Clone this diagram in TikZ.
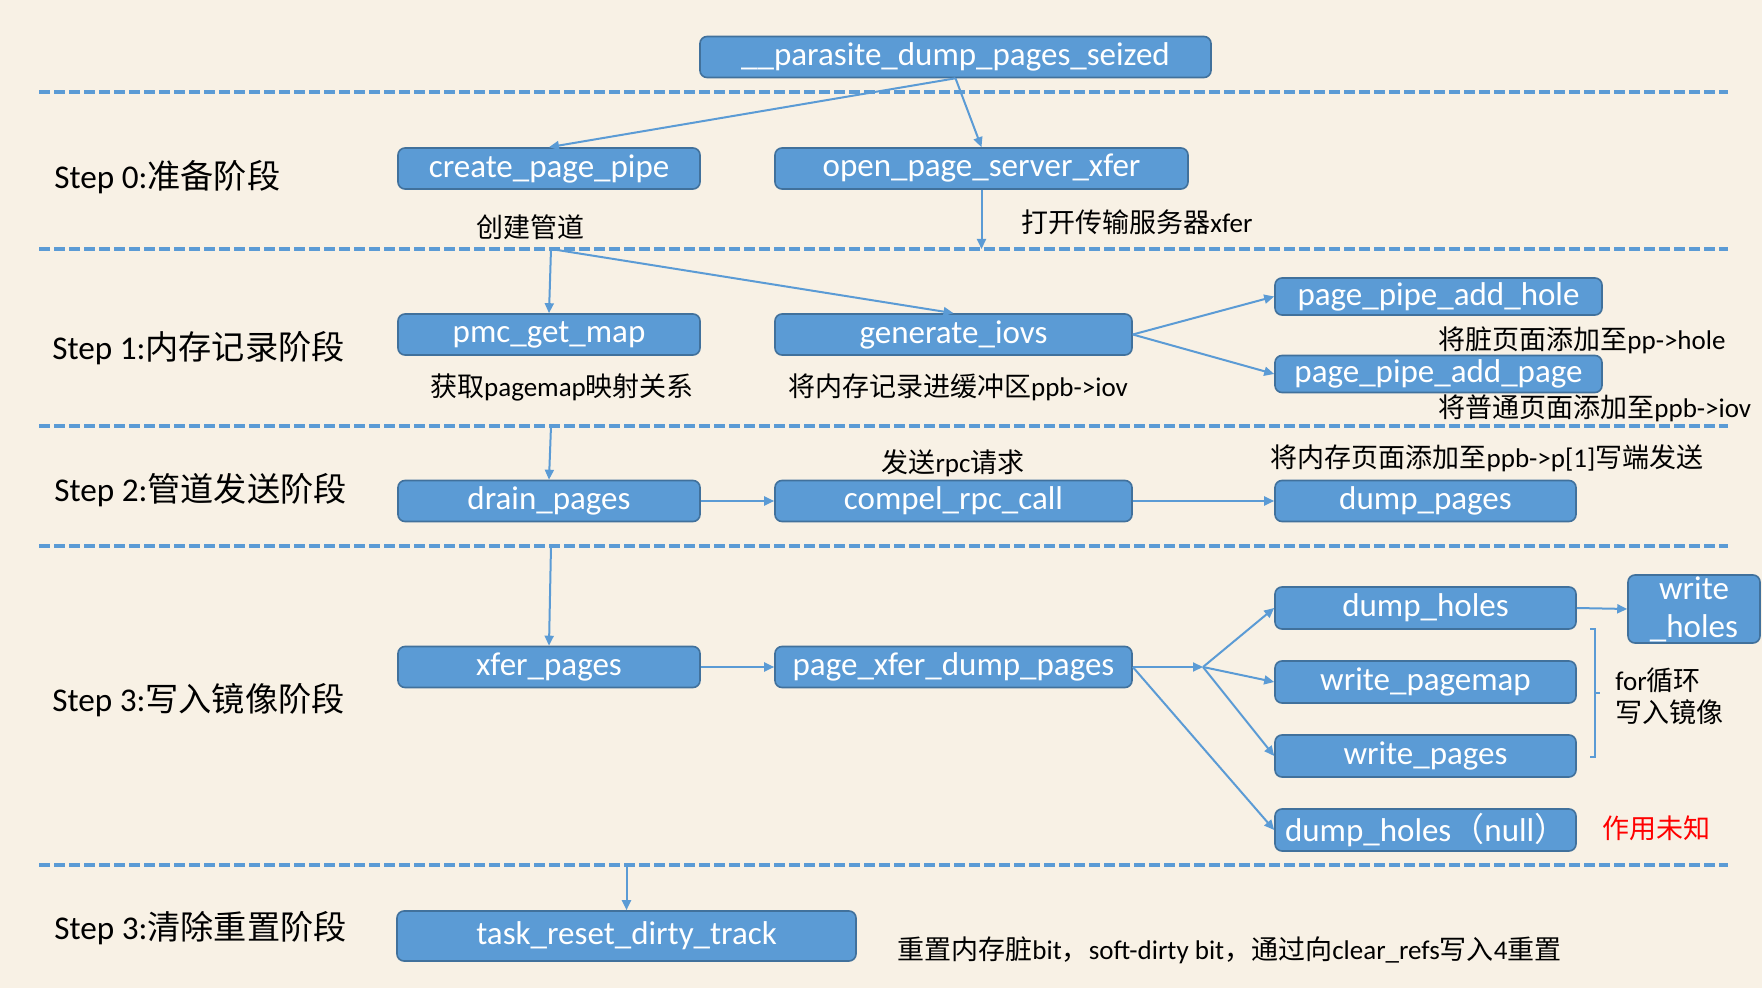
\documentclass[tikz,border=0pt]{standalone}
\usepackage{fontspec}
\setmainfont{Carlito}
\newfontfamily\zhfont{Noto Sans CJK SC}
\newcommand\zh[1]{{\zhfont #1}}
\usetikzlibrary{arrows.meta}
\definecolor{paper}{HTML}{F8F1E5}
\definecolor{boxblue}{HTML}{5B9BD5}
\definecolor{boxedge}{HTML}{41719C}

\begin{document}
\begin{tikzpicture}[
        x=0.5pt, y=-0.5pt,
        fn/.style={rectangle, rounded corners=3.5pt, draw=boxedge, line width=0.8pt, fill=boxblue,
            text=white, font=\fontsize{16.5}{19}\selectfont, minimum height=20.5pt, inner sep=0pt},
        note/.style={inner sep=0pt, font=\fontsize{13.5}{16}\selectfont},
        steplabel/.style={anchor=west, inner sep=0pt, font=\fontsize{16.6}{19}\selectfont},
        divider/.style={boxblue, line width=1.7pt, dash pattern=on 5.3pt off 2.2pt},
        link/.style={boxblue, line width=1pt, -{Triangle[length=5pt,width=4.5pt]}}
    ]
    \fill[paper] (0,0) rectangle (1762,988);
    \useasboundingbox (0,0) rectangle (1762,988);

    % phase dividers
    \foreach \y [count=\i] in {92,249,426,546,865} {
        \draw[divider] (39,\y) -- (1728,\y);
        \coordinate (d\i) at (551,\y);
    }

    % phase labels
    \node[steplabel] at (54,177) {Step 0:\zh{准备阶段}};
    \node[steplabel] at (52,348) {Step 1:\zh{内存记录阶段}};
    \node[steplabel] at (54,490) {Step 2:\zh{管道发送阶段}};
    \node[steplabel] at (52,700) {Step 3:\zh{写入镜像阶段}};
    \node[steplabel] at (54,928) {Step 3:\zh{清除重置阶段}};

    % functions
    \node[fn, minimum width=255.5pt] (parasite) at (955.5,57) {\_\_parasite\_dump\_pages\_seized};
    \node[fn, minimum width=151pt] (create) at (549,168.5) {create\_page\_pipe};
    \node[fn, minimum width=206.5pt] (open) at (981.5,168.5) {open\_page\_server\_xfer};
    \node[fn, minimum width=151pt] (pmc) at (549,334.5) {pmc\_get\_map};
    \node[fn, minimum width=178.5pt] (gen) at (953.5,334.5) {generate\_iovs};
    \node[fn, minimum width=163.5pt, minimum height=18.5pt] (hole) at (1438.5,296.5) {page\_pipe\_add\_hole};
    \node[fn, minimum width=163.5pt, minimum height=18.5pt] (addpage) at (1438.5,374) {page\_pipe\_add\_page};
    \node[fn, minimum width=151pt] (drain) at (549,501) {drain\_pages};
    \node[fn, minimum width=178.5pt] (compel) at (953.5,501) {compel\_rpc\_call};
    \node[fn, minimum width=150.5pt] (dumppages) at (1425.5,501) {dump\_pages};
    \node[fn, minimum width=151pt] (xfer) at (549,667) {xfer\_pages};
    \node[fn, minimum width=178.5pt] (pxfer) at (953.5,667) {page\_xfer\_dump\_pages};
    \node[fn, minimum width=150.5pt, minimum height=21pt] (dumpholes) at (1425.5,608) {dump\_holes};
    \node[fn, minimum width=150.5pt, minimum height=21pt] (wpagemap) at (1425.5,682) {write\_pagemap};
    \node[fn, minimum width=150.5pt, minimum height=21pt] (wpages) at (1425.5,756) {write\_pages};
    \node[fn, minimum height=21pt, text width=140.5pt, inner xsep=5pt, align=left] (nullholes) at (1425.5,830) {dump\_holes\zh{（}null\zh{）}};
    \node[fn, minimum width=66pt, minimum height=34pt, align=center] (wholes) at (1694,609) {write\\\_holes};
    \node[fn, minimum width=229.5pt, minimum height=25pt] (task) at (626.5,936) {task\_reset\_dirty\_track};

    % notes
    \node[note] at (530,227) {\zh{创建管道}};
    \node[note, anchor=west] at (1021,222) {\zh{打开传输服务器}xfer};
    \node[note] at (562,387) {\zh{获取}pagemap\zh{映射关系}};
    \node[note] at (958,387) {\zh{将内存记录进缓冲区}ppb->iov};
    \node[note, anchor=west] at (1438,340) {\zh{将脏页面添加至}pp->hole};
    \node[note, anchor=west] at (1438,408) {\zh{将普通页面添加至}ppb->iov};
    \node[note] at (953,463) {\zh{发送}rpc\zh{请求}};
    \node[note] at (1487,458) {\zh{将内存页面添加至}ppb->p[1]\zh{写端发送}};
    \node[note, anchor=west, align=left] at (1615,696) {for\zh{循环}\\\zh{写入镜像}};
    \node[note, anchor=west, text=red] at (1602,828) {\zh{作用未知}};
    \node[note, anchor=west] at (897,950) {\zh{重置内存脏}bit\zh{，}soft-dirty bit\zh{，通过向}clear\_refs\zh{写入}4\zh{重置}};

    % calls
    \draw[link] (parasite.south) -- (create.north);
    \draw[link] (parasite.south) -- (open.north);
    \draw[link] (open.south) -- (open.south |- d2);
    \draw[link] (d2) -- (pmc.north);
    \draw[link] (d2) -- (gen.north);
    \draw[link] (gen.east) -- (hole.west);
    \draw[link] (gen.east) -- (addpage.west);
    \draw[link] (d3) -- (drain.north);
    \draw[link] (drain.east) -- (compel.west);
    \draw[link] (compel.east) -- (dumppages.west);
    \draw[link] (d4) -- (xfer.north);
    \draw[link] (xfer.east) -- (pxfer.west);
    \coordinate (fan) at (1203,667);
    \draw[link] (pxfer.east) -- (fan);
    \draw[link] (fan) -- (dumpholes.west);
    \draw[link] (fan) -- (wpagemap.west);
    \draw[link] (fan) -- (wpages.west);
    \draw[link] (pxfer.east) -- (nullholes.west);
    \draw[link] (dumpholes.east) -- (wholes.west);
    \draw[link] (task.north |- d5) -- (task.north);

    % loop bracket
    \draw[boxblue, line width=0.6pt] (1590,629) -- (1595,629) -- (1595,757) -- (1590,757)
        (1595,693) -- (1600,693);
\end{tikzpicture}
\end{document}
